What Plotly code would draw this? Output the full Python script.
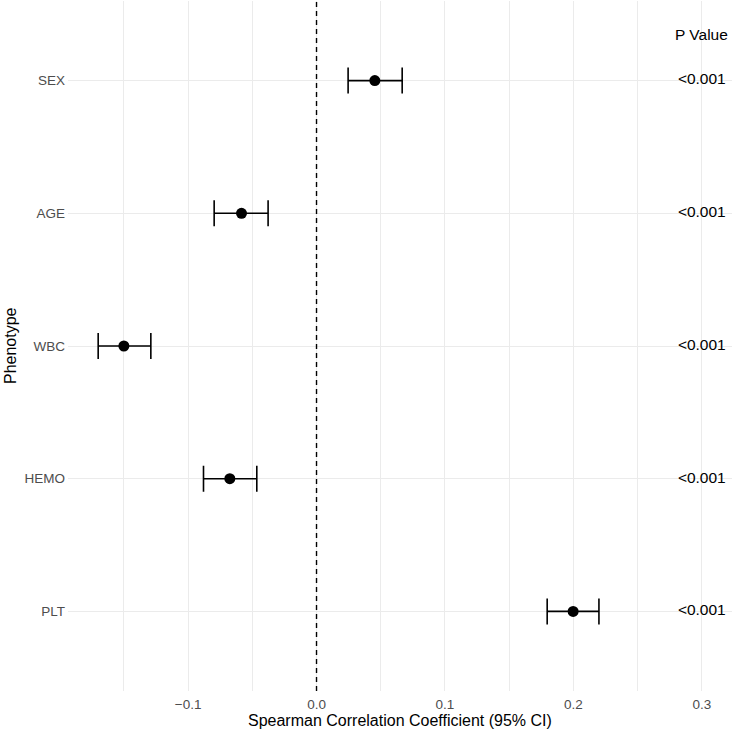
import plotly.graph_objects as go

phenotypes = ["SEX", "AGE", "WBC", "HEMO", "PLT"]
estimates = [0.0454, -0.0584, -0.150, -0.0675, 0.1998]
ci_low = [0.0246, -0.0797, -0.170, -0.0880, 0.1796]
ci_high = [0.0667, -0.0377, -0.129, -0.0465, 0.2199]
p_values = ["<0.001", "<0.001", "<0.001", "<0.001", "<0.001"]
x_ticks = [-0.1, 0.0, 0.1, 0.2, 0.3]
x_tick_labels = ["\u22120.1", "0.0", "0.1", "0.2", "0.3"]

n = len(phenotypes)
ypos = [n - i for i in range(n)]
err_plus = [h - e for h, e in zip(ci_high, estimates)]
err_minus = [e - l for e, l in zip(estimates, ci_low)]

FONT = "Liberation Sans, Arial, sans-serif"

fig = go.Figure()

# dashed reference line at zero
fig.add_shape(type="line", x0=0, x1=0, y0=0, y1=1, xref="x", yref="paper",
              line=dict(color="black", width=1.4, dash="5px,4px"), layer="above")

fig.add_trace(go.Scatter(
    x=estimates, y=ypos, mode="markers",
    marker=dict(color="black", size=11),
    error_x=dict(type="data", symmetric=False, array=err_plus, arrayminus=err_minus,
                 color="black", thickness=1.6, width=13),
    showlegend=False, hoverinfo="skip",
))

fig.add_trace(go.Scatter(
    x=[0.3] * n, y=ypos, mode="text", text=p_values,
    textfont=dict(family=FONT, size=15.5, color="black"),
    textposition="middle center", showlegend=False, hoverinfo="skip",
    cliponaxis=False,
))

fig.add_annotation(x=0.3, y=n + 0.35, xref="x", yref="y", text="P Value",
                   showarrow=False, font=dict(family=FONT, size=15.5, color="black"),
                   xanchor="center", yanchor="middle")

fig.add_annotation(x=-0.0873, y=0.5, xref="paper", yref="paper", text="Phenotype",
                   textangle=-90, showarrow=False,
                   font=dict(family=FONT, size=16, color="black"),
                   xanchor="center", yanchor="middle")

fig.add_annotation(x=0.5, y=-0.0430, xref="paper", yref="paper",
                   text="Spearman Correlation Coefficient (95% CI)",
                   showarrow=False, font=dict(family=FONT, size=16, color="black"),
                   xanchor="center", yanchor="middle")

fig.update_layout(
    width=732, height=732,
    margin=dict(l=68, r=0, t=1, b=41),
    plot_bgcolor="white", paper_bgcolor="white",
    font=dict(family=FONT),
)

fig.update_xaxes(
    range=[-0.1935, 0.3235],
    tickvals=x_ticks, ticktext=x_tick_labels,
    tickfont=dict(family=FONT, size=13.5, color="#4d4d4d"),
    showgrid=True, gridcolor="#ebebeb", gridwidth=1,
    minor=dict(dtick=0.05, tick0=0, showgrid=True, gridcolor="#ebebeb", gridwidth=1),
    zeroline=False, showline=False, ticks="", ticklabelstandoff=3,
)

fig.update_yaxes(
    range=[0.4, n + 0.6],
    tickvals=ypos, ticktext=phenotypes,
    tickfont=dict(family=FONT, size=13.5, color="#4d4d4d"),
    showgrid=True, gridcolor="#ebebeb", gridwidth=1,
    zeroline=False, showline=False, ticks="", ticklabelstandoff=2,
)

fig.write_html(
    "out.html",
    config={"displayModeBar": False},
    post_script="document.body.style.margin='0';document.body.style.overflow='hidden';",
)
